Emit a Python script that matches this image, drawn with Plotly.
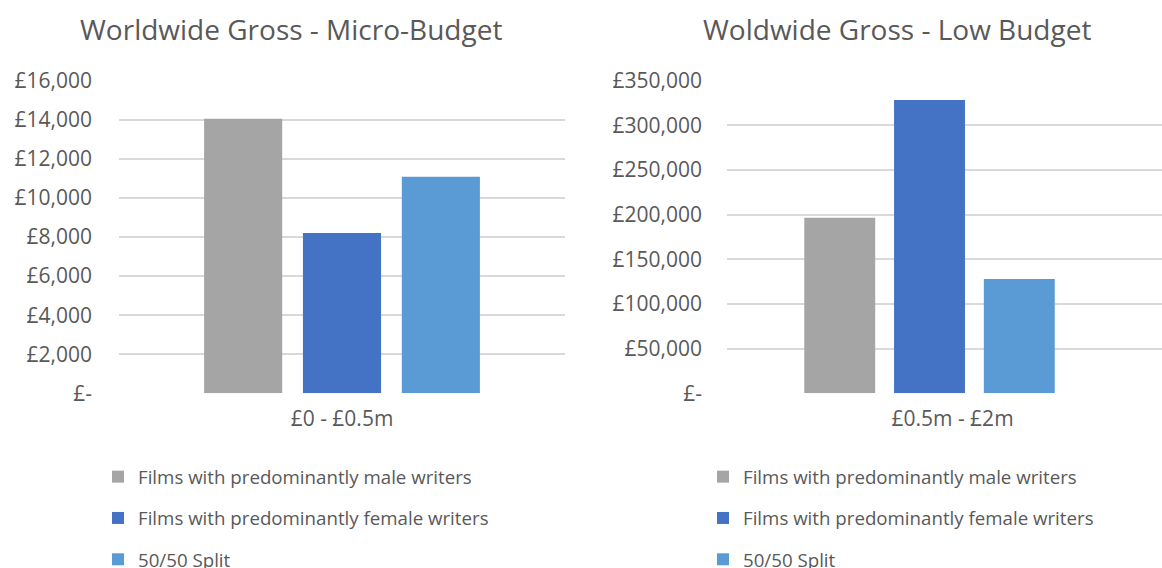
import plotly.graph_objects as go

# ---- data ----
series_names = ["Films with predominantly male writers",
                "Films with predominantly female writers",
                "50/50 Split"]
series_colors = ["#A5A5A5", "#4472C4", "#5B9BD5"]

micro_category = ["£0 - £0.5m"]
micro_values = [14050, 8200, 11080]
micro_tickvals = [0, 2000, 4000, 6000, 8000, 10000, 12000, 14000, 16000]
micro_ticktext = ["£-", "£2,000", "£4,000", "£6,000", "£8,000",
                  "£10,000", "£12,000", "£14,000", "£16,000"]

low_category = ["£0.5m - £2m"]
low_values = [196500, 328500, 128000]
low_tickvals = [0, 50000, 100000, 150000, 200000, 250000, 300000, 350000]
low_ticktext = ["£-", "£50,000", "£100,000", "£150,000", "£200,000",
                "£250,000", "£300,000", "£350,000"]

titles = ["Worldwide Gross - Micro-Budget", "Woldwide Gross - Low Budget"]

# ---- figure ----
W, H = 1162, 568
FONT = "Open Sans"
TXT = "#595959"
GRID = "#D9D9D9"

fig = go.Figure()
for i, name in enumerate(series_names):
    fig.add_trace(go.Bar(x=micro_category, y=[micro_values[i]], name=name,
                         marker=dict(color=series_colors[i], line=dict(width=0)),
                         xaxis="x", yaxis="y", legend="legend",
                         legendgroup="a%d" % i))
for i, name in enumerate(series_names):
    fig.add_trace(go.Bar(x=low_category, y=[low_values[i]], name=name,
                         marker=dict(color=series_colors[i], line=dict(width=0)),
                         xaxis="x2", yaxis="y2", legend="legend2",
                         legendgroup="b%d" % i))

y_dom = [1 - 393.3 / H, 1 - 80.7 / H]

axis_font = dict(family=FONT, size=21, color=TXT)
leg_font = dict(family=FONT, size=18.7, color=TXT)

fig.update_layout(
    width=W, height=H,
    margin=dict(l=0, r=0, t=0, b=0, autoexpand=False),
    paper_bgcolor="white", plot_bgcolor="white",
    barmode="group", bargap=0.335, bargroupgap=0.21,
    font=dict(family=FONT, color=TXT),
    xaxis=dict(domain=[119 / W, 565 / W], anchor="y", type="category",
               range=[-0.5, 0.5], showgrid=False, zeroline=False,
               showline=False, ticks="", tickfont=axis_font,
               ticklabelstandoff=11, automargin=False),
    yaxis=dict(domain=y_dom, anchor="x", range=[0, 16000],
               tickvals=micro_tickvals, ticktext=micro_ticktext,
               showgrid=True, gridcolor=GRID, gridwidth=1.5,
               zeroline=False, showline=False, ticks="",
               tickfont=axis_font, ticklabelstandoff=26, automargin=False),
    xaxis2=dict(domain=[727 / W, 1.0], anchor="y2", type="category",
                range=[-0.5, 0.574], showgrid=False, zeroline=False,
                showline=False, ticks="", tickfont=axis_font,
                ticklabelstandoff=11, ticklabelshift=23, automargin=False),
    yaxis2=dict(domain=y_dom, anchor="x2", range=[0, 350000],
                tickvals=low_tickvals, ticktext=low_ticktext,
                showgrid=True, gridcolor=GRID, gridwidth=1.5,
                zeroline=False, showline=False, ticks="",
                tickfont=axis_font, ticklabelstandoff=24, automargin=False),
    legend=dict(x=98 / W, y=1 - 458 / H, xref="container", yref="container",
                xanchor="left", yanchor="top",
                orientation="v", tracegroupgap=14, font=leg_font,
                bgcolor="rgba(0,0,0,0)"),
    legend2=dict(x=703 / W, y=1 - 458 / H, xref="container", yref="container",
                 xanchor="left", yanchor="top",
                 orientation="v", tracegroupgap=14, font=leg_font,
                 bgcolor="rgba(0,0,0,0)"),
    annotations=[
        dict(text=titles[0], x=291 / W, y=1 - 29 / H, xref="paper", yref="paper",
             xanchor="center", yanchor="middle", showarrow=False,
             font=dict(family=FONT, size=28, color=TXT)),
        dict(text=titles[1], x=897 / W, y=1 - 29 / H, xref="paper", yref="paper",
             xanchor="center", yanchor="middle", showarrow=False,
             font=dict(family=FONT, size=28, color=TXT)),
    ],
)

fig.write_html("out.html", config={"displayModeBar": False},
               post_script="document.body.style.margin='0';")
